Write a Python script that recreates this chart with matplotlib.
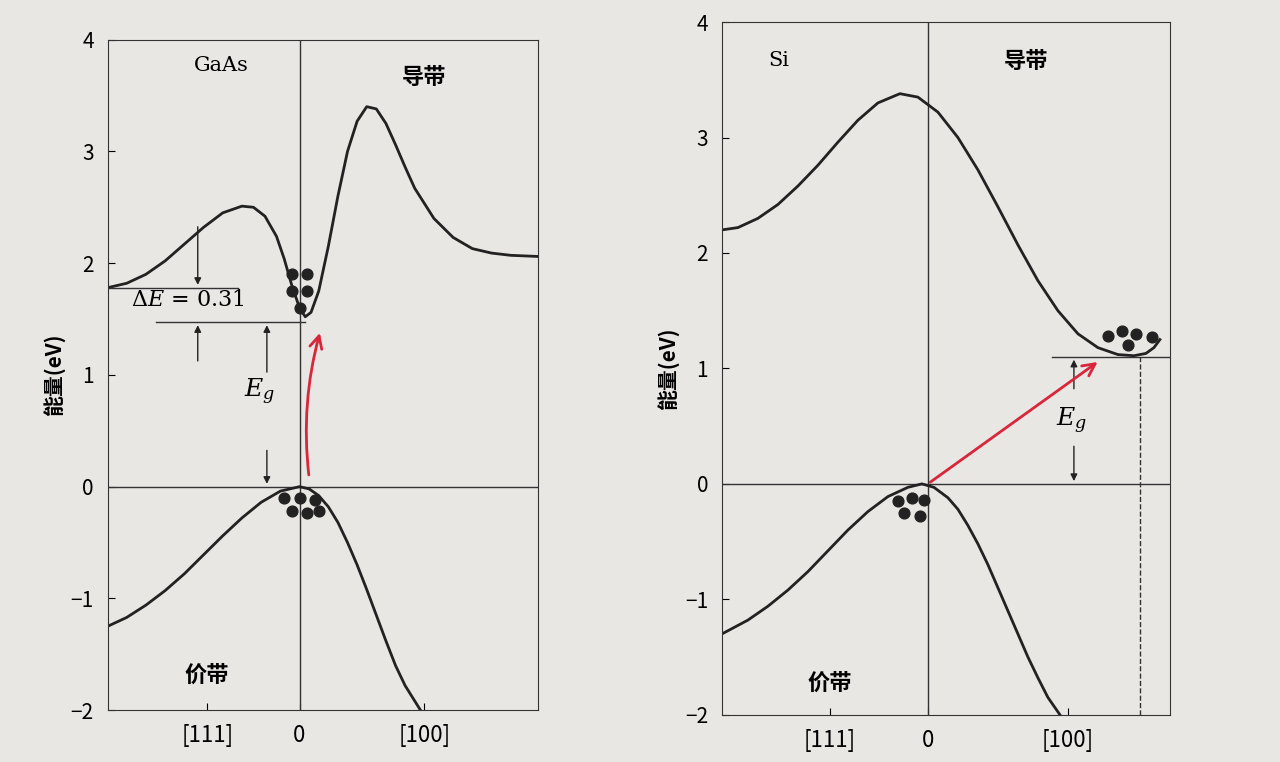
import numpy as np
import matplotlib
matplotlib.use("Agg")
import matplotlib.pyplot as plt

plt.rcParams['font.family'] = ['Noto Sans CJK SC', 'DejaVu Sans']
plt.rcParams['mathtext.fontset'] = 'dejavuserif'

# --- GaAs band data (k, E eV) ---
gaas_cb_k = [-1.0, -0.9, -0.8, -0.7, -0.6, -0.5, -0.4, -0.3, -0.24, -0.18, -0.12, -0.08,
             -0.04, 0.0, 0.03, 0.06, 0.1, 0.15, 0.2, 0.25, 0.3, 0.35, 0.4, 0.45, 0.5,
             0.55, 0.6, 0.7, 0.8, 0.9, 1.0, 1.1, 1.24]
gaas_cb_e = [1.78, 1.82, 1.9, 2.02, 2.17, 2.32, 2.45, 2.51, 2.5, 2.42, 2.24, 2.04,
             1.8, 1.6, 1.52, 1.56, 1.75, 2.15, 2.6, 3.0, 3.27, 3.4, 3.38, 3.25, 3.06,
             2.86, 2.67, 2.4, 2.23, 2.13, 2.09, 2.07, 2.06]
gaas_vb_k = [-1.0, -0.9, -0.8, -0.7, -0.6, -0.5, -0.4, -0.3, -0.2, -0.1, 0.0, 0.05,
             0.1, 0.15, 0.2, 0.25, 0.3, 0.35, 0.4, 0.45, 0.5, 0.55, 0.63]
gaas_vb_e = [-1.25, -1.17, -1.06, -0.93, -0.78, -0.61, -0.44, -0.28, -0.14, -0.04, 0.0, -0.02,
             -0.08, -0.18, -0.32, -0.5, -0.7, -0.92, -1.15, -1.38, -1.6, -1.78, -2.0]
gaas_el_k = [-0.04, 0.04, -0.04, 0.04, 0.0]
gaas_el_e = [1.9, 1.9, 1.75, 1.75, 1.6]
gaas_ho_k = [-0.08, 0.0, 0.08, -0.04, 0.04, 0.1]
gaas_ho_e = [-0.1, -0.1, -0.12, -0.22, -0.24, -0.22]

# --- Si band data ---
si_cb_k = [-1.03, -0.95, -0.85, -0.75, -0.65, -0.55, -0.45, -0.35, -0.25, -0.14, -0.05,
           0.05, 0.15, 0.25, 0.35, 0.45, 0.55, 0.65, 0.75, 0.85, 0.95, 1.03, 1.09, 1.13, 1.16]
si_cb_e = [2.2, 2.22, 2.3, 2.42, 2.58, 2.76, 2.96, 3.15, 3.3, 3.38, 3.35,
           3.22, 3.0, 2.72, 2.4, 2.07, 1.76, 1.5, 1.3, 1.18, 1.12, 1.11, 1.13, 1.18, 1.25]
si_vb_k = [-1.03, -0.9, -0.8, -0.7, -0.6, -0.5, -0.4, -0.3, -0.2, -0.1, -0.03, 0.03,
           0.1, 0.15, 0.2, 0.25, 0.3, 0.35, 0.4, 0.45, 0.5, 0.55, 0.6, 0.66]
si_vb_e = [-1.3, -1.18, -1.06, -0.92, -0.76, -0.58, -0.4, -0.24, -0.11, -0.03, 0.0, -0.03,
           -0.12, -0.22, -0.36, -0.52, -0.7, -0.9, -1.1, -1.3, -1.5, -1.68, -1.85, -2.0]
si_el_k = [0.9, 0.97, 1.04, 1.12, 1.0]
si_el_e = [1.28, 1.32, 1.3, 1.27, 1.2]
si_ho_k = [-0.15, -0.08, -0.02, -0.12, -0.04]
si_ho_e = [-0.15, -0.12, -0.14, -0.25, -0.28]

bg = '#e9e7e4'
fig = plt.figure(figsize=(12.8, 7.62), dpi=100, facecolor=bg)
ax1 = fig.add_axes([0.084, 0.068, 0.336, 0.88], facecolor=bg)
ax2 = fig.add_axes([0.564, 0.062, 0.35, 0.909], facecolor=bg)

def setup(ax, xmin, xmax, k111, k100):
    ax.set_xlim(xmin, xmax)
    ax.set_ylim(-2, 4)
    ax.axhline(0, color='#333', lw=1)
    ax.axvline(0, color='#333', lw=1)
    ax.set_yticks([-2, -1, 0, 1, 2, 3, 4])
    ax.set_yticklabels(['\u22122', '\u22121', '0', '1', '2', '3', '4'], fontsize=15)
    ax.set_xticks([k111, 0, k100])
    ax.set_xticklabels(['[111]', '0', '[100]'], fontsize=16)
    ax.tick_params(direction='in', length=5, pad=10)
    ax.set_ylabel('能量(eV)', fontsize=15, fontweight='bold')
    for s in ax.spines.values():
        s.set_color('#333')

arrow = dict(arrowstyle='-|>', color='#222', lw=1, mutation_scale=10)
red = dict(arrowstyle='->', color='#d8263a', lw=2, mutation_scale=22)

# GaAs
setup(ax1, -1.0, 1.24, -0.48, 0.65)
ax1.plot(gaas_cb_k, gaas_cb_e, color='#222', lw=2)
ax1.plot(gaas_vb_k, gaas_vb_e, color='#222', lw=2)
ax1.scatter(gaas_el_k, gaas_el_e, s=60, color='#222', zorder=3)
ax1.scatter(gaas_ho_k, gaas_ho_e, s=60, color='#222', zorder=3)
ax1.plot([-1.0, -0.32], [1.78, 1.78], color='#333', lw=1)
ax1.plot([-0.75, 0.03], [1.47, 1.47], color='#333', lw=1)
ax1.annotate('', xy=(-0.53, 1.78), xytext=(-0.53, 2.35), arrowprops=arrow)
ax1.annotate('', xy=(-0.53, 1.47), xytext=(-0.53, 1.1), arrowprops=arrow)
ax1.annotate('', xy=(-0.17, 1.47), xytext=(-0.17, 1.0), arrowprops=arrow)
ax1.annotate('', xy=(-0.17, 0.0), xytext=(-0.17, 0.35), arrowprops=arrow)
ax1.text(-0.88, 1.62, r'$\Delta E$ = 0.31', fontsize=16, family='DejaVu Serif')
ax1.text(-0.29, 0.8, r'$E_g$', fontsize=18)
ax1.text(-0.55, 3.72, 'GaAs', fontsize=15, family='DejaVu Serif')
ax1.text(0.53, 3.6, '导带', fontsize=16, fontweight='bold')
ax1.text(-0.6, -1.75, '价带', fontsize=16, fontweight='bold')
ax1.annotate('', xy=(0.11, 1.4), xytext=(0.05, 0.08),
             arrowprops=dict(red, connectionstyle='arc3,rad=-0.1'))

# Si
setup(ax2, -1.03, 1.21, -0.49, 0.7)
ax2.plot(si_cb_k, si_cb_e, color='#222', lw=2)
ax2.plot(si_vb_k, si_vb_e, color='#222', lw=2)
ax2.scatter(si_el_k, si_el_e, s=60, color='#222', zorder=3)
ax2.scatter(si_ho_k, si_ho_e, s=60, color='#222', zorder=3)
ax2.plot([0.62, 1.21], [1.1, 1.1], color='#333', lw=1)
ax2.plot([1.06, 1.06], [-2, 1.1], color='#333', lw=1, ls='--')
ax2.annotate('', xy=(0.73, 1.1), xytext=(0.73, 0.8), arrowprops=arrow)
ax2.annotate('', xy=(0.73, 0.0), xytext=(0.73, 0.35), arrowprops=arrow)
ax2.text(0.64, 0.5, r'$E_g$', fontsize=18)
ax2.text(-0.8, 3.62, 'Si', fontsize=15, family='DejaVu Serif')
ax2.text(0.38, 3.6, '导带', fontsize=16, fontweight='bold')
ax2.text(-0.6, -1.78, '价带', fontsize=16, fontweight='bold')
ax2.annotate('', xy=(0.86, 1.07), xytext=(0.0, 0.0), arrowprops=red)

fig.savefig('out.png', dpi=100, facecolor=bg)
